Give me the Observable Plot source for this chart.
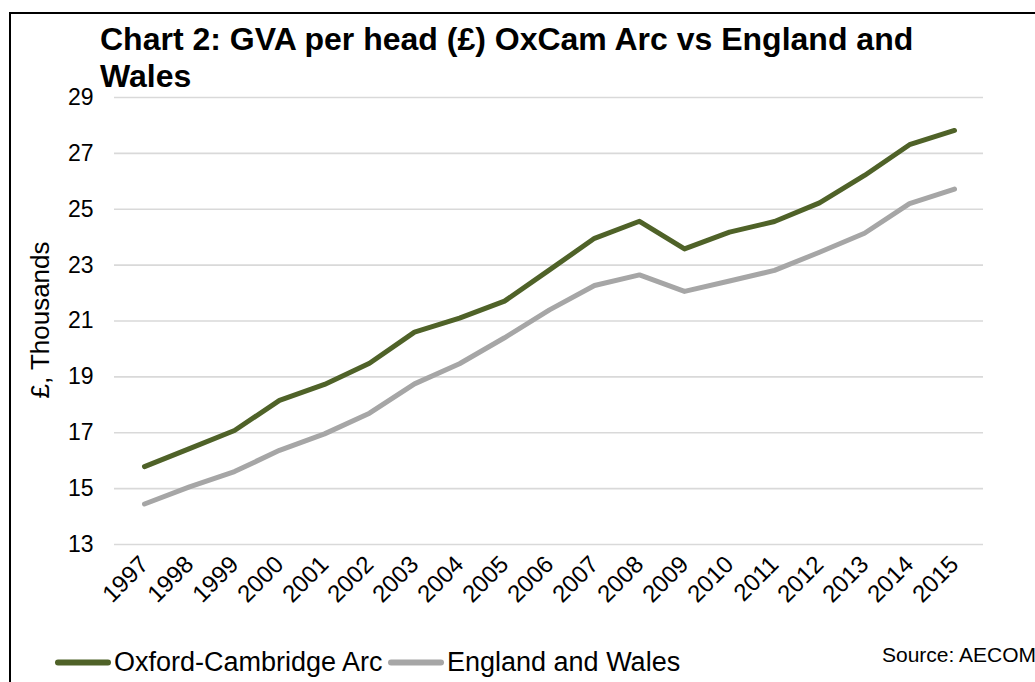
<!DOCTYPE html>
<html>
<head>
<meta charset="utf-8">
<script src="https://cdn.jsdelivr.net/npm/d3@7"></script>
<script src="https://cdn.jsdelivr.net/npm/@observablehq/plot@0.6"></script>
<style>
  html, body { margin: 0; padding: 0; background: #fff; }
  #wrap { position: relative; width: 1035px; height: 682px; overflow: hidden; font-family: "Liberation Sans", Arial, sans-serif; color: #000; }
  #frame { position: absolute; left: 9px; top: 12px; width: 1100px; height: 800px; border-left: 2px solid #000; border-top: 2px solid #000; }
  #chart { position: absolute; left: 0; top: 0; }
  #title { position: absolute; left: 100px; top: 21px; font-weight: bold; font-size: 32px; line-height: 37px; white-space: nowrap; }
  #ylabel { position: absolute; left: 40px; top: 320px; font-size: 26px; white-space: nowrap; transform: translate(-50%, -50%) rotate(-90deg); }
  .leg { position: absolute; top: 662px; transform: translateY(-50%); font-size: 27px; white-space: nowrap; display: flex; align-items: center; }
  .sw { display: inline-block; width: 56px; height: 6px; border-radius: 3px; margin-right: 3px; }
  #source { position: absolute; left: 882px; top: 643px; font-size: 21px; white-space: nowrap; }
</style>
</head>
<body>
<div id="wrap">
  <div id="frame"></div>
  <div id="chart"></div>
  <div id="title">Chart 2: GVA per head (£) OxCam Arc vs England and<br>Wales</div>
  <div id="ylabel">£, Thousands</div>
  <div id="legend"></div>
  <div id="source">Source: AECOM</div>
</div>
<script>
const years = ["1997","1998","1999","2000","2001","2002","2003","2004","2005","2006","2007","2008","2009","2010","2011","2012","2013","2014","2015"];
const oxcam = [15.79, 16.43, 17.08, 18.16, 18.73, 19.49, 20.60, 21.10, 21.71, 22.83, 23.96, 24.57, 23.58, 24.18, 24.56, 25.23, 26.21, 27.31, 27.82];
const englandWales = [14.45, 15.06, 15.61, 16.37, 16.96, 17.70, 18.75, 19.47, 20.40, 21.40, 22.27, 22.65, 22.06, 22.43, 22.81, 23.46, 24.14, 25.20, 25.72];
const seriesNames = ["Oxford-Cambridge Arc", "England and Wales"];
const seriesColors = ["#4f6228", "#a6a6a6"];
const yTicks = [13, 15, 17, 19, 21, 23, 25, 27, 29];

const rows = [];
years.forEach((yr, i) => {
  rows.push({year: yr, value: oxcam[i], series: seriesNames[0]});
  rows.push({year: yr, value: englandWales[i], series: seriesNames[1]});
});

const chart = Plot.plot({
  width: 1035,
  height: 682,
  marginLeft: 114,
  marginRight: 52,
  marginTop: 97,
  marginBottom: 138,
  style: {fontFamily: "'Liberation Sans', Arial, sans-serif", background: "transparent", color: "#000"},
  x: {type: "point", domain: years, padding: 0.5},
  y: {domain: [13, 29]},
  color: {domain: seriesNames, range: seriesColors},
  marks: [
    Plot.gridY(yTicks, {stroke: "#d9d9d9", strokeOpacity: 1, strokeWidth: 1.6}),
    Plot.axisY(yTicks, {tickSize: 0, tickPadding: 21, fontSize: 23, label: null}),
    Plot.axisX({tickSize: 0, tickPadding: 16, tickRotate: -45, fontSize: 24, label: null}),
    Plot.line(rows, {x: "year", y: "value", z: "series", stroke: "series", strokeWidth: 5, strokeLinecap: "round", strokeLinejoin: "round"})
  ]
});
document.getElementById("chart").appendChild(chart);

const legend = document.getElementById("legend");
const legendX = [55, 388];
seriesNames.forEach((name, i) => {
  const d = document.createElement("div");
  d.className = "leg";
  d.style.left = legendX[i] + "px";
  const sw = document.createElement("span");
  sw.className = "sw";
  sw.style.background = seriesColors[i];
  d.appendChild(sw);
  d.appendChild(document.createTextNode(name));
  legend.appendChild(d);
});
</script>
</body>
</html>
